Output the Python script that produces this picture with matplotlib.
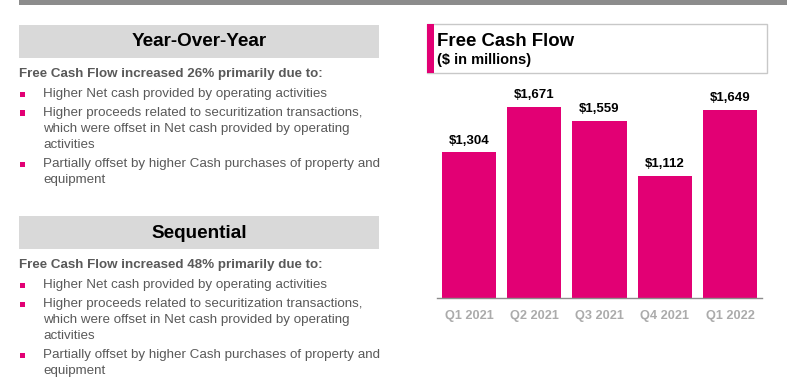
import matplotlib.pyplot as plt
from matplotlib.patches import Rectangle

plt.rcParams['font.family'] = ['Liberation Sans', 'DejaVu Sans']

# chart data
quarters = ['Q1 2021', 'Q2 2021', 'Q3 2021', 'Q4 2021', 'Q1 2022']
fcf = [1304, 1671, 1559, 1112, 1649]
fcf_labels = ['$1,304', '$1,671', '$1,559', '$1,112', '$1,649']

# left hand commentary
yoy_intro = 'Free Cash Flow increased 26% primarily due to:'
seq_intro = 'Free Cash Flow increased 48% primarily due to:'
bullets = [
    ['Higher Net cash provided by operating activities'],
    ['Higher proceeds related to securitization transactions,',
     'which were offset in Net cash provided by operating',
     'activities'],
    ['Partially offset by higher Cash purchases of property and',
     'equipment'],
]

MAGENTA = '#E20074'
TXT_GRAY = '#595959'
W, H = 802, 390

fig = plt.figure(figsize=(W / 100, H / 100), dpi=100)


def fx(x):
    return x / W


def fy(y):
    return 1 - y / H


def rect(x0, y0, x1, y1, **kw):
    fig.patches.append(Rectangle((fx(x0), fy(y1)), fx(x1) - fx(x0), fy(y0) - fy(y1),
                                 transform=fig.transFigure, figure=fig, **kw))


# gray rule along the top
rect(19, 0, 787, 4.5, facecolor='#8C8C8C', edgecolor='none')


def section(top, heading, intro):
    rect(19, top, 379, top + 33, facecolor='#D9D9D9', edgecolor='none')
    fig.text(fx(199), fy(top + 17), heading, ha='center', va='center',
             fontsize=13.6, fontweight='bold', color='black')
    fig.text(fx(19), fy(top + 49), intro, ha='left', va='center',
             fontsize=9.6, fontweight='bold', color=TXT_GRAY)
    y = top + 69
    for item in bullets:
        rect(20, y - 2.5, 25, y + 2.5, facecolor=MAGENTA, edgecolor='none')
        for line in item:
            fig.text(fx(43), fy(y), line, ha='left', va='center',
                     fontsize=9.6, color=TXT_GRAY)
            y += 16
        y += 3


section(25, 'Year-Over-Year', yoy_intro)
section(216, 'Sequential', seq_intro)

# chart title box
rect(427, 24, 767, 73, facecolor='white', edgecolor='#C8C8C8', linewidth=1)
rect(427, 24, 434, 73, facecolor=MAGENTA, edgecolor='none')
fig.text(fx(437), fy(41.5), 'Free Cash Flow', ha='left', va='center',
         fontsize=13.4, fontweight='bold', color='black')
fig.text(fx(437), fy(60), '($ in millions)', ha='left', va='center',
         fontsize=10.5, fontweight='bold', color='black')

# bar chart
ax = fig.add_axes([fx(437), fy(298), fx(762) - fx(437), fy(85) - fy(298)])
x = range(len(quarters))
ax.bar(x, fcf, width=0.83, color=MAGENTA)
ax.set_ylim(117, 1850)
ax.set_xlim(-0.49, 4.49)
for i, (v, lab) in enumerate(zip(fcf, fcf_labels)):
    ax.annotate(lab, (i, v), xytext=(0, 4), textcoords='offset points',
                ha='center', va='bottom', fontsize=9.5, fontweight='bold')
ax.set_xticks(list(x))
ax.set_xticklabels(quarters, fontsize=9.2, fontweight='bold', color='#ABABAB')
ax.tick_params(axis='x', length=0, pad=9)
ax.set_yticks([])
for s in ['top', 'right', 'left']:
    ax.spines[s].set_visible(False)
ax.spines['bottom'].set_color('#8C8C8C')
ax.spines['bottom'].set_linewidth(1)

fig.savefig('out.png', dpi=100)
